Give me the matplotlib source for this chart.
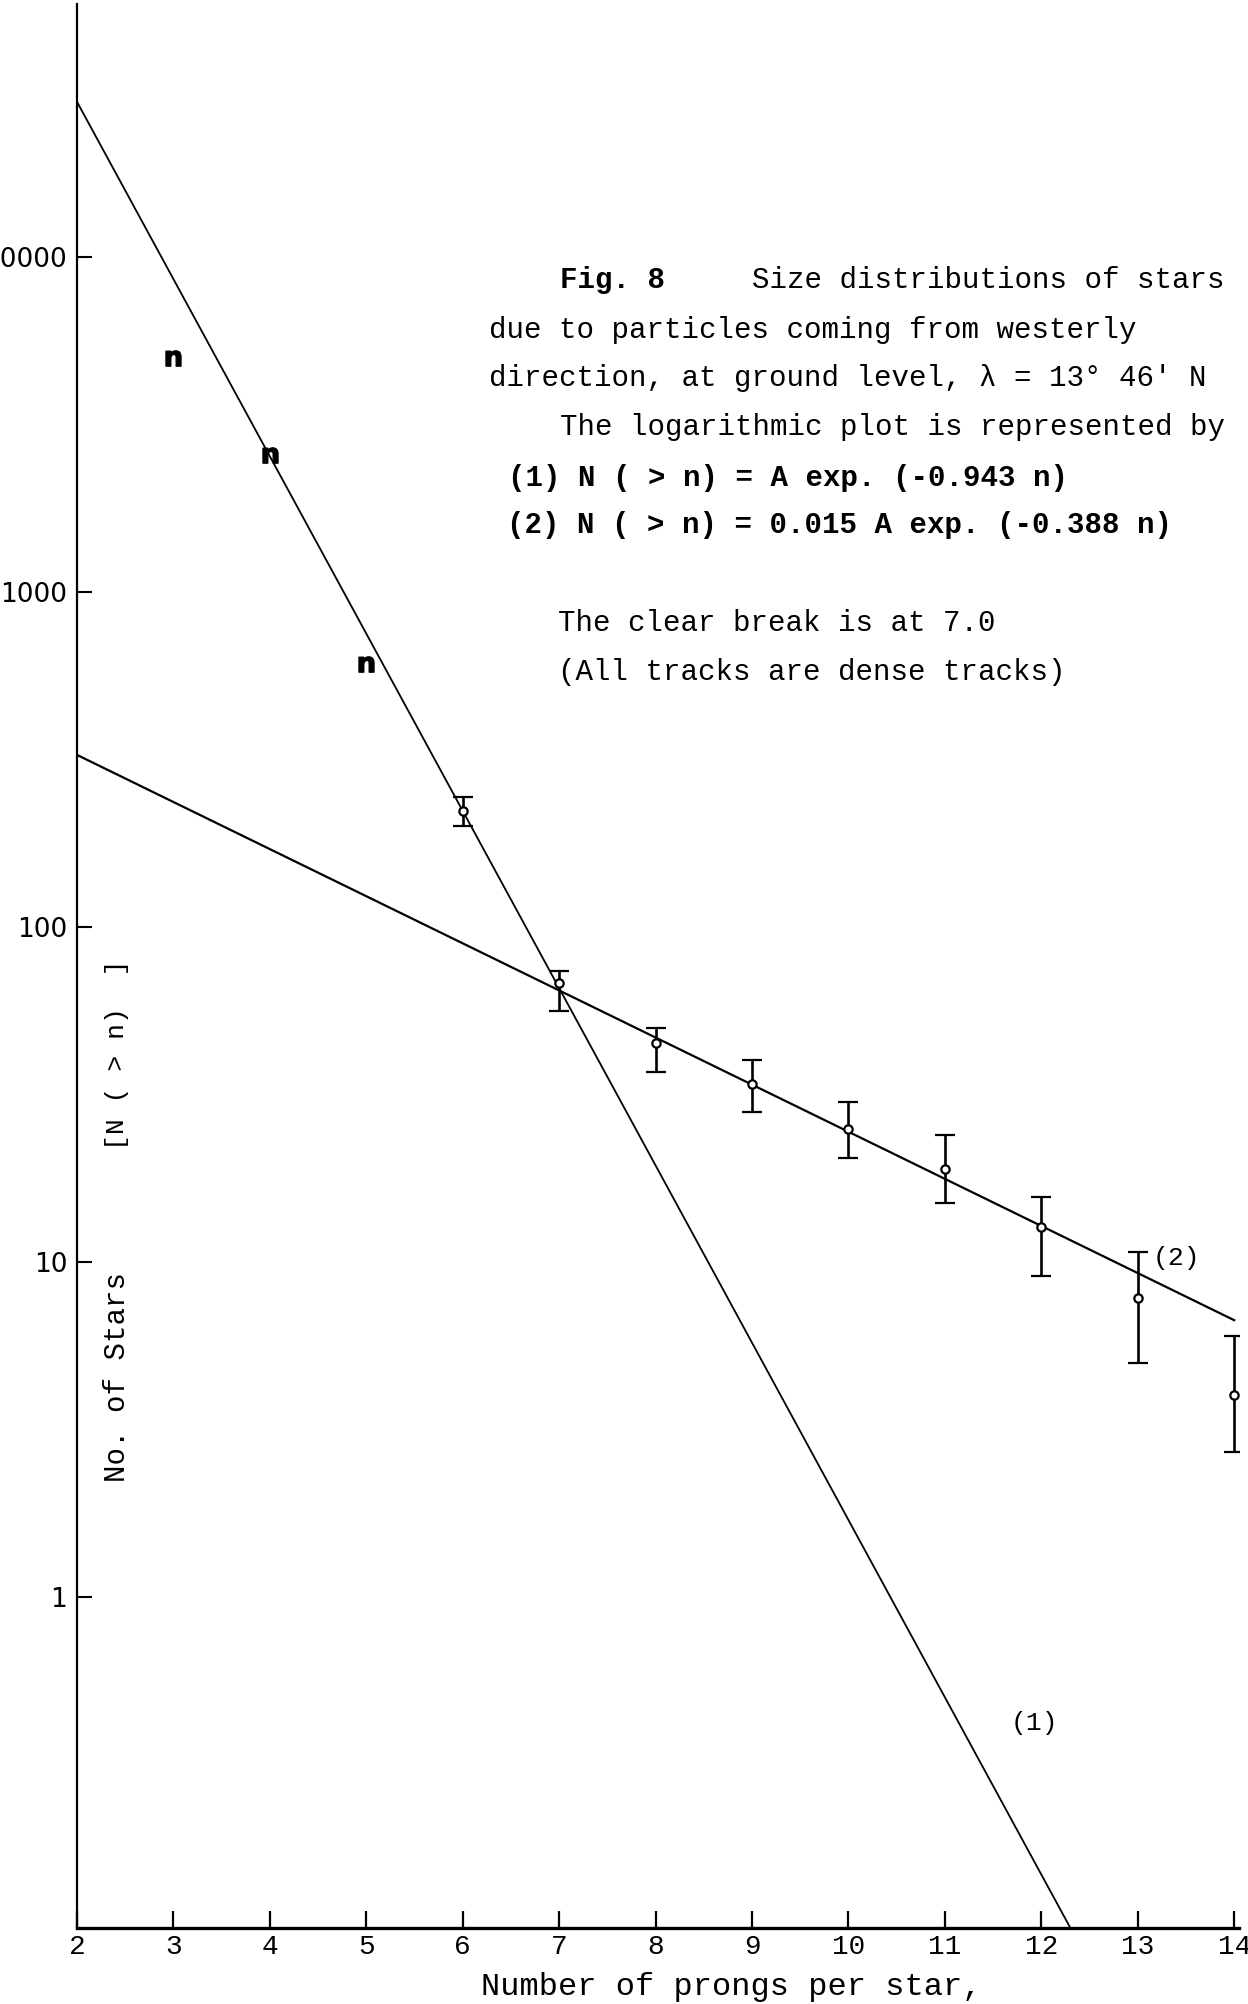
"""Size distribution of stars (westerly direction, ground level) - log plot."""

import matplotlib
matplotlib.use("Agg")
import matplotlib.pyplot as plt
from matplotlib.ticker import NullLocator

# --- data ---
# points at n = 3..5 (no error bars, drawn with a small "n" mark)
prongs_fit = [3, 4, 5]
stars_fit = [5000, 2560, 610]

# points with error bars
prongs = [6, 7, 8, 9, 10, 11, 12, 13, 14]
stars = [222, 68, 45, 34, 25, 19, 12.7, 7.8, 4.0]
stars_hi = [244, 74, 50, 40, 30, 24, 15.6, 10.7, 6.0]
stars_lo = [200, 56, 37, 28, 20.4, 15, 9.1, 5.0, 2.7]

# the two fitted straight lines (1) and (2)
line1_n = [2, 12.3]
line1_N = [29000, 0.103]
line2_n = [2, 14]
line2_N = [326, 6.7]

xtick_vals = list(range(2, 15))
ytick_vals = [1, 10, 100, 1000, 10000]
ytick_labels = ["1", "10", "100", "1000", "10000"]

TYPE = ["Liberation Mono", "DejaVu Sans Mono"]

W, H = 1248, 2004
fig = plt.figure(figsize=(W / 100, H / 100), dpi=100)
ax = fig.add_axes([77 / W, 76 / H, (1239 - 77) / W, (1928 - 4) / H])

ax.set_yscale("log")
ax.set_xlim(2, 14.05)
ax.set_ylim(0.1028, 56800)

ax.plot(line1_n, line1_N, color="black", lw=1.3)
ax.plot(line2_n, line2_N, color="black", lw=1.6)

ax.plot(prongs_fit, stars_fit, ls="none", marker=r"$\mathbf{n}$",
        ms=11, color="black")

err_lo = [s - lo for s, lo in zip(stars, stars_lo)]
err_hi = [hi - s for s, hi in zip(stars, stars_hi)]
ax.errorbar(prongs, stars, yerr=[err_lo, err_hi], fmt="o", ms=6,
            mfc="white", mec="black", mew=1.6, ecolor="black",
            elinewidth=1.9, capsize=7, capthick=2.0, zorder=3)

# axes look
ax.spines["top"].set_visible(False)
ax.spines["right"].set_visible(False)
ax.spines["left"].set_linewidth(1.6)
ax.spines["bottom"].set_linewidth(2.4)

ax.set_xticks(xtick_vals)
ax.set_xticklabels([str(v) for v in xtick_vals])
ax.set_yticks(ytick_vals)
ax.set_yticklabels(ytick_labels)
ax.yaxis.set_minor_locator(NullLocator())
ax.xaxis.set_minor_locator(NullLocator())
ax.tick_params(axis="x", direction="in", length=12, width=1.6, pad=4,
               labelsize=20)
ax.tick_params(axis="y", direction="in", length=11, width=1.5, pad=7,
               labelsize=19)
for lbl in ax.get_xticklabels():
    lbl.set_family(TYPE)
for lbl in ax.get_yticklabels():
    lbl.set_family("DejaVu Sans")

# labels on the lines
ax.text(11.68, 0.42, "(1)", family=TYPE, fontsize=19, va="center")
ax.text(13.15, 10.3, "(2)", family=TYPE, fontsize=19, va="center")

# axis titles (typewritten)
fig.text(0.0937, 0.3129, "No. of Stars", rotation=90, family=TYPE,
         fontsize=21, ha="center", va="center")
fig.text(0.0937, 0.4735, "[N ( > n)  ]", rotation=90, family=TYPE,
         fontsize=19, ha="center", va="center")
fig.text(0.3854, 0.0085, "Number of prongs per star,", family=TYPE,
         fontsize=23, ha="left", va="center")

# caption block
fig.text(0.4487, 0.8603, "Fig. 8", family=TYPE, fontsize=21,
         fontweight="bold", va="center")
fig.text(0.6026, 0.8603, "Size distributions of stars", family=TYPE,
         fontsize=21, va="center")
fig.text(0.3918, 0.8353, "due to particles coming from westerly",
         family=TYPE, fontsize=21, va="center")
fig.text(0.3918, 0.8114, "direction, at ground level, \u03bb = 13\u00b0 46' N",
         family=TYPE, fontsize=21, va="center")
fig.text(0.4487, 0.7869, "The logarithmic plot is represented by",
         family=TYPE, fontsize=21, va="center")
fig.text(0.4071, 0.7615, "(1) N ( > n) = A exp. (-0.943 n)",
         family=TYPE, fontsize=21, fontweight="bold", va="center")
fig.text(0.4063, 0.7380, "(2) N ( > n) = 0.015 A exp. (-0.388 n)",
         family=TYPE, fontsize=21, fontweight="bold", va="center")
fig.text(0.4471, 0.6891, "The clear break is at 7.0",
         family=TYPE, fontsize=21, va="center")
fig.text(0.4471, 0.6647, "(All tracks are dense tracks)",
         family=TYPE, fontsize=21, va="center")

fig.savefig("out.png", dpi=100)
